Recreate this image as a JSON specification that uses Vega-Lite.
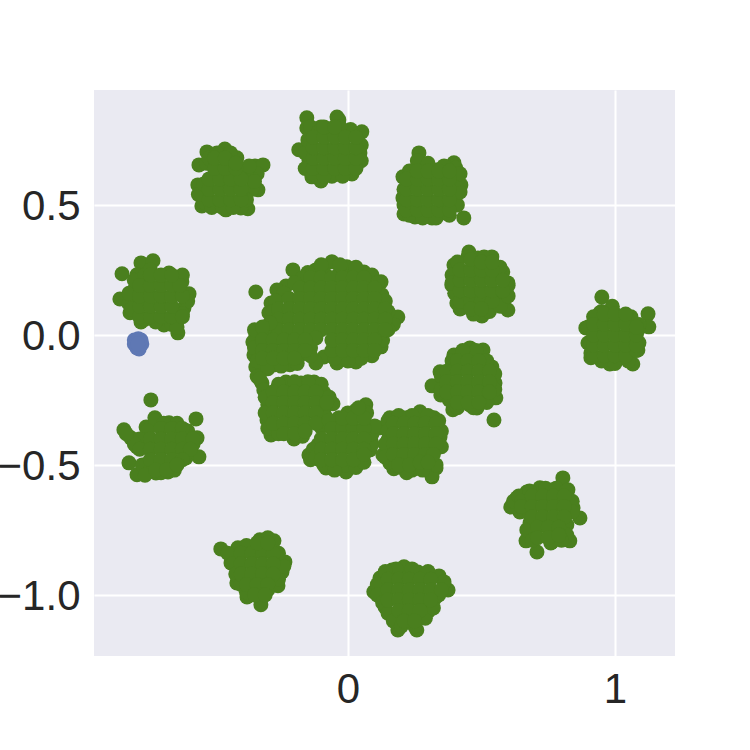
{"$schema":"https://vega.github.io/schema/vega-lite/v6.json","autosize":"none","width":581,"height":566,"padding":{"left":94,"top":90,"right":75,"bottom":94},"background":"white","config":{"view":{"stroke":null,"fill":"#EAEAF2"}},"data":{"values":[
{"x":-0.558,"y":0.654},{"x":-0.528,"y":0.704},{"x":-0.461,"y":0.715},{"x":-0.416,"y":0.681},{"x":-0.562,"y":0.577},{"x":-0.547,"y":0.496},{"x":-0.457,"y":0.481},{"x":-0.375,"y":0.485},{"x":-0.337,"y":0.558},{"x":-0.348,"y":0.65},{"x":-0.318,"y":0.654},{"x":-0.401,"y":0.488},{"x":-0.521,"y":0.5},{"x":-0.55,"y":0.54},{"x":-0.53,"y":0.66},{"x":-0.34,"y":0.62},{"x":-0.36,"y":0.6},{"x":-0.36,"y":0.56},
{"x":-0.52,"y":0.68},{"x":-0.49,"y":0.7},{"x":-0.44,"y":0.7},{"x":-0.38,"y":0.63},{"x":-0.54,"y":0.51},{"x":-0.56,"y":0.54},{"x":-0.54,"y":0.58},{"x":-0.51,"y":0.49},{"x":-0.47,"y":0.49},{"x":-0.43,"y":0.49},{"x":-0.38,"y":0.52},{"x":-0.35,"y":0.59},{"x":-0.37,"y":0.65},
{"x":-0.52,"y":0.52},{"x":-0.48,"y":0.52},{"x":-0.44,"y":0.52},{"x":-0.4,"y":0.52},{"x":-0.52,"y":0.56},{"x":-0.48,"y":0.56},{"x":-0.44,"y":0.56},{"x":-0.4,"y":0.56},{"x":-0.52,"y":0.6},{"x":-0.48,"y":0.6},{"x":-0.44,"y":0.6},{"x":-0.4,"y":0.6},{"x":-0.5,"y":0.64},{"x":-0.46,"y":0.64},{"x":-0.42,"y":0.64},{"x":-0.5,"y":0.68},{"x":-0.46,"y":0.68},{"x":-0.42,"y":0.66},
{"x":-0.154,"y":0.835},{"x":-0.041,"y":0.838},{"x":0.052,"y":0.781},{"x":-0.184,"y":0.712},{"x":0.045,"y":0.7},{"x":0.015,"y":0.619},{"x":-0.101,"y":0.592},{"x":-0.135,"y":0.608},{"x":-0.154,"y":0.796},{"x":-0.034,"y":0.827},{"x":-0.146,"y":0.673},{"x":0.022,"y":0.769},{"x":-0.101,"y":0.8},{"x":-0.045,"y":0.623},{"x":-0.064,"y":0.777},{"x":-0.06,"y":0.61},
{"x":-0.14,"y":0.8},{"x":-0.11,"y":0.78},{"x":-0.16,"y":0.7},{"x":-0.16,"y":0.64},{"x":-0.13,"y":0.62},{"x":-0.09,"y":0.61},{"x":-0.02,"y":0.61},{"x":0.02,"y":0.65},{"x":0.05,"y":0.67},{"x":0.05,"y":0.73},{"x":0.01,"y":0.79},{"x":-0.03,"y":0.8},{"x":-0.15,"y":0.75},
{"x":-0.13,"y":0.64},{"x":-0.09,"y":0.64},{"x":-0.05,"y":0.64},{"x":-0.01,"y":0.64},{"x":0.03,"y":0.64},{"x":-0.13,"y":0.68},{"x":-0.09,"y":0.68},{"x":-0.05,"y":0.68},{"x":-0.01,"y":0.68},{"x":0.03,"y":0.68},{"x":-0.13,"y":0.72},{"x":-0.09,"y":0.72},{"x":-0.05,"y":0.72},{"x":-0.01,"y":0.72},{"x":0.03,"y":0.72},{"x":-0.13,"y":0.76},{"x":-0.09,"y":0.76},{"x":-0.05,"y":0.76},{"x":-0.01,"y":0.76},{"x":0.03,"y":0.76},{"x":-0.09,"y":0.8},{"x":-0.05,"y":0.8},
{"x":-0.846,"y":0.235},{"x":-0.775,"y":0.277},{"x":-0.73,"y":0.285},{"x":-0.79,"y":0.231},{"x":-0.854,"y":0.138},{"x":-0.595,"y":0.158},{"x":-0.614,"y":0.104},{"x":-0.637,"y":0.008},{"x":-0.816,"y":0.085},{"x":-0.775,"y":0.05},{"x":-0.689,"y":0.038},{"x":-0.622,"y":0.204},{"x":-0.67,"y":0.238},{"x":-0.801,"y":0.173},{"x":-0.809,"y":0.135},{"x":-0.64,"y":0.06},
{"x":-0.82,"y":0.12},{"x":-0.82,"y":0.16},{"x":-0.8,"y":0.21},{"x":-0.76,"y":0.23},{"x":-0.62,"y":0.23},{"x":-0.6,"y":0.13},{"x":-0.62,"y":0.08},{"x":-0.66,"y":0.04},{"x":-0.72,"y":0.05},{"x":-0.76,"y":0.06},{"x":-0.81,"y":0.1},{"x":-0.74,"y":0.25},{"x":-0.64,"y":0.03},
{"x":-0.78,"y":0.07},{"x":-0.74,"y":0.07},{"x":-0.7,"y":0.07},{"x":-0.66,"y":0.07},{"x":-0.62,"y":0.07},{"x":-0.78,"y":0.11},{"x":-0.74,"y":0.11},{"x":-0.7,"y":0.11},{"x":-0.66,"y":0.11},{"x":-0.78,"y":0.15},{"x":-0.74,"y":0.15},{"x":-0.7,"y":0.15},{"x":-0.66,"y":0.15},{"x":-0.62,"y":0.15},{"x":-0.78,"y":0.19},{"x":-0.74,"y":0.19},{"x":-0.7,"y":0.19},{"x":-0.66,"y":0.19},{"x":-0.63,"y":0.19},{"x":-0.74,"y":0.23},{"x":-0.7,"y":0.23},{"x":-0.66,"y":0.23},
{"x":-0.06,"y":0.281},{"x":-0.12,"y":0.25},{"x":-0.206,"y":0.25},{"x":-0.232,"y":0.188},{"x":-0.266,"y":0.173},{"x":-0.288,"y":0.123},{"x":-0.296,"y":0.085},{"x":-0.004,"y":0.262},{"x":0.06,"y":0.242},{"x":0.124,"y":0.204},{"x":0.127,"y":0.154},{"x":0.154,"y":0.058},{"x":0.187,"y":0.069},{"x":0.124,"y":-0.046},{"x":0.03,"y":-0.104},{"x":-0.041,"y":-0.108},{"x":-0.09,"y":-0.085},{"x":-0.12,"y":-0.108},{"x":-0.345,"y":0.165},{"x":-0.15,"y":0.24},{"x":-0.09,"y":0.24},{"x":-0.03,"y":0.24},{"x":0.03,"y":0.24},{"x":0.09,"y":0.21},
{"x":-0.17,"y":0.22},{"x":-0.2,"y":0.2},{"x":-0.24,"y":0.16},{"x":-0.27,"y":0.13},{"x":-0.28,"y":0.09},{"x":-0.27,"y":0.05},{"x":-0.1,"y":0.27},{"x":-0.03,"y":0.27},{"x":0.03,"y":0.26},{"x":0.09,"y":0.23},{"x":0.11,"y":0.2},{"x":0.14,"y":0.13},{"x":0.15,"y":0.09},{"x":0.17,"y":0.04},{"x":0.13,"y":-0.02},{"x":0.09,"y":-0.08},{"x":0.05,"y":-0.09},{"x":0,"y":-0.1},{"x":-0.05,"y":-0.09},{"x":0.15,"y":0.02},{"x":-0.06,"y":-0.06},
{"x":-0.14,"y":0.22},{"x":-0.1,"y":0.22},{"x":-0.06,"y":0.22},{"x":-0.02,"y":0.22},{"x":0.02,"y":0.22},{"x":0.06,"y":0.22},
{"x":-0.18,"y":0.18},{"x":-0.14,"y":0.18},{"x":-0.1,"y":0.18},{"x":-0.06,"y":0.18},{"x":-0.02,"y":0.18},{"x":0.02,"y":0.18},{"x":0.06,"y":0.18},{"x":0.1,"y":0.18},
{"x":-0.22,"y":0.14},{"x":-0.18,"y":0.14},{"x":-0.14,"y":0.14},{"x":-0.1,"y":0.14},{"x":-0.06,"y":0.14},{"x":-0.02,"y":0.14},{"x":0.02,"y":0.14},{"x":0.06,"y":0.14},{"x":0.1,"y":0.14},
{"x":-0.26,"y":0.1},{"x":-0.22,"y":0.1},{"x":-0.18,"y":0.1},{"x":-0.14,"y":0.1},{"x":-0.1,"y":0.1},{"x":-0.06,"y":0.1},{"x":-0.02,"y":0.1},{"x":0.02,"y":0.1},{"x":0.06,"y":0.1},{"x":0.1,"y":0.1},{"x":0.14,"y":0.1},
{"x":-0.26,"y":0.06},{"x":-0.22,"y":0.06},{"x":-0.18,"y":0.06},{"x":-0.14,"y":0.06},{"x":-0.1,"y":0.06},{"x":-0.06,"y":0.06},{"x":-0.02,"y":0.06},{"x":0.02,"y":0.06},{"x":0.06,"y":0.06},{"x":0.1,"y":0.06},{"x":0.14,"y":0.06},
{"x":-0.3,"y":0.02},{"x":-0.26,"y":0.02},{"x":-0.22,"y":0.02},{"x":-0.18,"y":0.02},{"x":-0.14,"y":0.02},{"x":-0.1,"y":0.02},{"x":-0.06,"y":0.02},{"x":-0.02,"y":0.02},{"x":0.02,"y":0.02},{"x":0.06,"y":0.02},{"x":0.1,"y":0.02},{"x":0.14,"y":0.02},
{"x":-0.06,"y":-0.02},{"x":-0.02,"y":-0.02},{"x":0.02,"y":-0.02},{"x":0.06,"y":-0.02},{"x":0.1,"y":-0.02},{"x":-0.02,"y":-0.06},{"x":0.02,"y":-0.06},{"x":0.06,"y":-0.06},{"x":0.1,"y":-0.06},
{"x":-0.345,"y":0},{"x":-0.356,"y":-0.027},{"x":-0.292,"y":0.046},{"x":-0.345,"y":-0.123},{"x":-0.322,"y":-0.185},{"x":-0.352,"y":-0.077},{"x":-0.12,"y":-0.012},{"x":-0.273,"y":-0.115},{"x":-0.18,"y":-0.077},{"x":-0.217,"y":-0.115},{"x":-0.322,"y":-0.115},{"x":-0.14,"y":-0.05},{"x":-0.34,"y":-0.16},
{"x":-0.35,"y":0.02},{"x":-0.32,"y":0.03},{"x":-0.35,"y":-0.05},{"x":-0.34,"y":-0.1},{"x":-0.3,"y":-0.13},{"x":-0.25,"y":-0.12},{"x":-0.19,"y":-0.11},{"x":-0.14,"y":-0.08},{"x":-0.33,"y":-0.17},
{"x":-0.32,"y":-0.02},{"x":-0.28,"y":-0.02},{"x":-0.24,"y":-0.02},{"x":-0.2,"y":-0.02},{"x":-0.16,"y":-0.02},{"x":-0.32,"y":-0.06},{"x":-0.28,"y":-0.06},{"x":-0.24,"y":-0.06},{"x":-0.2,"y":-0.06},{"x":-0.16,"y":-0.06},{"x":-0.32,"y":-0.09},{"x":-0.28,"y":-0.09},{"x":-0.24,"y":-0.09},{"x":-0.2,"y":-0.09},
{"x":-0.303,"y":-0.327},{"x":-0.288,"y":-0.385},{"x":-0.202,"y":-0.4},{"x":-0.101,"y":-0.354},{"x":-0.127,"y":-0.181},{"x":-0.176,"y":-0.185},{"x":-0.232,"y":-0.181},{"x":-0.09,"y":-0.223},{"x":-0.056,"y":-0.265},{"x":-0.315,"y":-0.212},{"x":-0.3,"y":-0.269},{"x":-0.09,"y":-0.3},
{"x":-0.31,"y":-0.24},{"x":-0.31,"y":-0.3},{"x":-0.3,"y":-0.36},{"x":-0.26,"y":-0.38},{"x":-0.17,"y":-0.39},{"x":-0.1,"y":-0.33},{"x":-0.08,"y":-0.32},{"x":-0.1,"y":-0.19},{"x":-0.15,"y":-0.18},{"x":-0.2,"y":-0.18},{"x":-0.26,"y":-0.19},{"x":-0.07,"y":-0.24},
{"x":-0.28,"y":-0.22},{"x":-0.24,"y":-0.22},{"x":-0.2,"y":-0.22},{"x":-0.16,"y":-0.22},{"x":-0.12,"y":-0.22},{"x":-0.28,"y":-0.26},{"x":-0.24,"y":-0.26},{"x":-0.2,"y":-0.26},{"x":-0.16,"y":-0.26},{"x":-0.12,"y":-0.26},{"x":-0.08,"y":-0.26},{"x":-0.28,"y":-0.3},{"x":-0.24,"y":-0.3},{"x":-0.2,"y":-0.3},{"x":-0.16,"y":-0.3},{"x":-0.12,"y":-0.3},{"x":-0.28,"y":-0.34},{"x":-0.24,"y":-0.34},{"x":-0.2,"y":-0.34},{"x":-0.16,"y":-0.34},{"x":-0.12,"y":-0.34},{"x":-0.24,"y":-0.38},{"x":-0.2,"y":-0.38},{"x":-0.16,"y":-0.37},
{"x":-0.146,"y":-0.462},{"x":-0.082,"y":-0.512},{"x":-0.007,"y":-0.527},{"x":0.052,"y":-0.488},{"x":0.086,"y":-0.404},{"x":0.067,"y":-0.269},{"x":0.015,"y":-0.319},{"x":-0.034,"y":-0.319},{"x":0.116,"y":-0.358},{"x":-0.112,"y":-0.423},{"x":0.082,"y":-0.442},{"x":-0.105,"y":-0.481},{"x":-0.049,"y":-0.5},{"x":-0.13,"y":-0.44},{"x":-0.01,"y":-0.5},
{"x":-0.14,"y":-0.48},{"x":-0.09,"y":-0.5},{"x":-0.05,"y":-0.52},{"x":0.03,"y":-0.51},{"x":0.06,"y":-0.49},{"x":0.09,"y":-0.42},{"x":0.09,"y":-0.38},{"x":0.1,"y":-0.35},{"x":0.07,"y":-0.3},{"x":0.03,"y":-0.29},{"x":-0.07,"y":-0.33},{"x":-0.12,"y":-0.47},{"x":0,"y":-0.3},
{"x":-0.1,"y":-0.4},{"x":-0.06,"y":-0.36},{"x":-0.02,"y":-0.36},{"x":0.02,"y":-0.36},{"x":0.06,"y":-0.36},{"x":-0.06,"y":-0.4},{"x":-0.02,"y":-0.4},{"x":0.02,"y":-0.4},{"x":0.06,"y":-0.4},{"x":-0.1,"y":-0.44},{"x":-0.06,"y":-0.44},{"x":-0.02,"y":-0.44},{"x":0.02,"y":-0.44},{"x":0.06,"y":-0.44},{"x":-0.1,"y":-0.48},{"x":-0.06,"y":-0.48},{"x":-0.02,"y":-0.48},{"x":0.02,"y":-0.48},{"x":0.06,"y":-0.46},{"x":-0.02,"y":-0.32},{"x":0.02,"y":-0.32},{"x":0.06,"y":-0.32},{"x":0.04,"y":-0.28},
{"x":0.157,"y":-0.319},{"x":0.221,"y":-0.319},{"x":0.27,"y":-0.296},{"x":0.322,"y":-0.319},{"x":0.345,"y":-0.392},{"x":0.33,"y":-0.512},{"x":0.315,"y":-0.546},{"x":0.262,"y":-0.512},{"x":0.172,"y":-0.515},{"x":0.131,"y":-0.462},{"x":0.157,"y":-0.492},{"x":0.15,"y":-0.404},{"x":0.24,"y":-0.52},{"x":0.2,"y":-0.51},{"x":0.15,"y":-0.44},
{"x":0.15,"y":-0.33},{"x":0.15,"y":-0.37},{"x":0.14,"y":-0.42},{"x":0.14,"y":-0.47},{"x":0.18,"y":-0.5},{"x":0.22,"y":-0.53},{"x":0.28,"y":-0.52},{"x":0.33,"y":-0.5},{"x":0.35,"y":-0.43},{"x":0.35,"y":-0.37},{"x":0.34,"y":-0.33},{"x":0.3,"y":-0.31},{"x":0.24,"y":-0.31},{"x":0.19,"y":-0.31},
{"x":0.17,"y":-0.34},{"x":0.21,"y":-0.34},{"x":0.25,"y":-0.34},{"x":0.29,"y":-0.34},{"x":0.33,"y":-0.34},{"x":0.17,"y":-0.38},{"x":0.21,"y":-0.38},{"x":0.25,"y":-0.38},{"x":0.29,"y":-0.38},{"x":0.33,"y":-0.38},{"x":0.17,"y":-0.42},{"x":0.21,"y":-0.42},{"x":0.25,"y":-0.42},{"x":0.29,"y":-0.42},{"x":0.33,"y":-0.42},{"x":0.17,"y":-0.46},{"x":0.21,"y":-0.46},{"x":0.25,"y":-0.46},{"x":0.29,"y":-0.46},{"x":0.32,"y":-0.46},{"x":0.19,"y":-0.5},{"x":0.23,"y":-0.5},{"x":0.27,"y":-0.49},{"x":0.3,"y":-0.49},
{"x":0.315,"y":-0.196},{"x":0.348,"y":-0.231},{"x":0.393,"y":-0.288},{"x":0.483,"y":-0.281},{"x":0.554,"y":-0.242},{"x":0.551,"y":-0.185},{"x":0.539,"y":-0.123},{"x":0.506,"y":-0.058},{"x":0.457,"y":-0.05},{"x":0.397,"y":-0.077},{"x":0.345,"y":-0.142},{"x":0.547,"y":-0.327},{"x":0.457,"y":-0.269},{"x":0.438,"y":-0.258},
{"x":0.35,"y":-0.16},{"x":0.35,"y":-0.21},{"x":0.38,"y":-0.25},{"x":0.41,"y":-0.28},{"x":0.47,"y":-0.28},{"x":0.52,"y":-0.26},{"x":0.55,"y":-0.21},{"x":0.55,"y":-0.15},{"x":0.52,"y":-0.1},{"x":0.48,"y":-0.06},{"x":0.43,"y":-0.06},{"x":0.39,"y":-0.1},
{"x":0.41,"y":-0.1},{"x":0.45,"y":-0.1},{"x":0.49,"y":-0.1},{"x":0.37,"y":-0.14},{"x":0.41,"y":-0.14},{"x":0.45,"y":-0.14},{"x":0.49,"y":-0.14},{"x":0.53,"y":-0.14},{"x":0.37,"y":-0.18},{"x":0.41,"y":-0.18},{"x":0.45,"y":-0.18},{"x":0.49,"y":-0.18},{"x":0.53,"y":-0.18},{"x":0.37,"y":-0.22},{"x":0.41,"y":-0.22},{"x":0.45,"y":-0.22},{"x":0.49,"y":-0.22},{"x":0.53,"y":-0.22},{"x":0.41,"y":-0.26},{"x":0.45,"y":-0.26},{"x":0.49,"y":-0.26},
{"x":0.453,"y":0.319},{"x":0.397,"y":0.269},{"x":0.389,"y":0.192},{"x":0.408,"y":0.123},{"x":0.502,"y":0.073},{"x":0.599,"y":0.096},{"x":0.58,"y":0.135},{"x":0.599,"y":0.2},{"x":0.58,"y":0.242},{"x":0.539,"y":0.3},{"x":0.487,"y":0.296},
{"x":0.39,"y":0.23},{"x":0.4,"y":0.16},{"x":0.42,"y":0.1},{"x":0.47,"y":0.08},{"x":0.53,"y":0.09},{"x":0.57,"y":0.11},{"x":0.6,"y":0.15},{"x":0.6,"y":0.19},{"x":0.57,"y":0.26},{"x":0.51,"y":0.3},{"x":0.45,"y":0.3},{"x":0.41,"y":0.28},{"x":0.39,"y":0.2},
{"x":0.42,"y":0.13},{"x":0.46,"y":0.13},{"x":0.5,"y":0.13},{"x":0.54,"y":0.13},{"x":0.42,"y":0.17},{"x":0.46,"y":0.17},{"x":0.5,"y":0.17},{"x":0.54,"y":0.17},{"x":0.58,"y":0.17},{"x":0.42,"y":0.21},{"x":0.46,"y":0.21},{"x":0.5,"y":0.21},{"x":0.54,"y":0.21},{"x":0.58,"y":0.21},{"x":0.42,"y":0.25},{"x":0.46,"y":0.25},{"x":0.5,"y":0.25},{"x":0.54,"y":0.25},{"x":0.46,"y":0.29},{"x":0.5,"y":0.28},{"x":0.54,"y":0.28},{"x":0.46,"y":0.1},{"x":0.5,"y":0.1},
{"x":0.266,"y":0.7},{"x":0.397,"y":0.662},{"x":0.404,"y":0.642},{"x":0.423,"y":0.577},{"x":0.434,"y":0.45},{"x":0.389,"y":0.512},{"x":0.315,"y":0.45},{"x":0.251,"y":0.454},{"x":0.21,"y":0.465},{"x":0.206,"y":0.527},{"x":0.206,"y":0.608},{"x":0.258,"y":0.642},{"x":0.337,"y":0.635},{"x":0.26,"y":0.67},{"x":0.352,"y":0.469},
{"x":0.21,"y":0.56},{"x":0.21,"y":0.5},{"x":0.23,"y":0.46},{"x":0.28,"y":0.45},{"x":0.33,"y":0.45},{"x":0.38,"y":0.46},{"x":0.41,"y":0.5},{"x":0.42,"y":0.55},{"x":0.41,"y":0.6},{"x":0.42,"y":0.62},{"x":0.23,"y":0.63},{"x":0.3,"y":0.66},{"x":0.36,"y":0.65},
{"x":0.22,"y":0.48},{"x":0.26,"y":0.48},{"x":0.3,"y":0.48},{"x":0.34,"y":0.48},{"x":0.38,"y":0.48},{"x":0.22,"y":0.52},{"x":0.26,"y":0.52},{"x":0.3,"y":0.52},{"x":0.34,"y":0.52},{"x":0.38,"y":0.52},{"x":0.22,"y":0.56},{"x":0.26,"y":0.56},{"x":0.3,"y":0.56},{"x":0.34,"y":0.56},{"x":0.38,"y":0.56},{"x":0.22,"y":0.6},{"x":0.26,"y":0.6},{"x":0.3,"y":0.6},{"x":0.34,"y":0.6},{"x":0.38,"y":0.6},{"x":0.26,"y":0.63},{"x":0.3,"y":0.63},{"x":0.34,"y":0.63},{"x":0.38,"y":0.63},
{"x":0.951,"y":0.146},{"x":0.989,"y":0.1},{"x":0.944,"y":0.085},{"x":1.124,"y":0.081},{"x":1.127,"y":0.031},{"x":0.891,"y":0.027},{"x":0.899,"y":-0.031},{"x":0.91,"y":-0.088},{"x":0.981,"y":-0.112},{"x":1.067,"y":-0.112},{"x":1.086,"y":-0.058},{"x":1.086,"y":0.019},{"x":1.037,"y":0.069},{"x":1.026,"y":-0.085},
{"x":0.9,"y":0.03},{"x":0.91,"y":-0.03},{"x":0.91,"y":-0.07},{"x":0.95,"y":-0.1},{"x":1,"y":-0.11},{"x":1.05,"y":-0.1},{"x":1.09,"y":-0.03},{"x":1.09,"y":0.04},{"x":1.06,"y":0.07},{"x":0.99,"y":0.11},{"x":0.95,"y":0.09},{"x":0.92,"y":0.07},
{"x":0.92,"y":-0.08},{"x":0.96,"y":-0.08},{"x":1,"y":-0.08},{"x":1.04,"y":-0.08},{"x":1.08,"y":-0.06},{"x":0.92,"y":-0.04},{"x":0.96,"y":-0.04},{"x":1,"y":-0.04},{"x":1.04,"y":-0.04},{"x":1.08,"y":-0.04},{"x":0.92,"y":0},{"x":0.96,"y":0},{"x":1,"y":0},{"x":1.04,"y":0},{"x":1.08,"y":0},{"x":0.92,"y":0.04},{"x":0.96,"y":0.04},{"x":1,"y":0.04},{"x":1.04,"y":0.04},{"x":1.08,"y":0.03},{"x":0.96,"y":0.08},{"x":1,"y":0.08},{"x":1.04,"y":0.08},
{"x":-0.738,"y":-0.25},{"x":-0.723,"y":-0.319},{"x":-0.569,"y":-0.323},{"x":-0.565,"y":-0.396},{"x":-0.558,"y":-0.469},{"x":-0.607,"y":-0.473},{"x":-0.674,"y":-0.527},{"x":-0.719,"y":-0.531},{"x":-0.79,"y":-0.538},{"x":-0.82,"y":-0.492},{"x":-0.839,"y":-0.365},{"x":-0.813,"y":-0.396},{"x":-0.79,"y":-0.431},{"x":-0.67,"y":-0.338},{"x":-0.614,"y":-0.365},{"x":-0.756,"y":-0.354},{"x":-0.76,"y":-0.5},
{"x":-0.72,"y":-0.33},{"x":-0.75,"y":-0.37},{"x":-0.78,"y":-0.4},{"x":-0.8,"y":-0.42},{"x":-0.77,"y":-0.5},{"x":-0.74,"y":-0.52},{"x":-0.7,"y":-0.53},{"x":-0.65,"y":-0.52},{"x":-0.61,"y":-0.46},{"x":-0.58,"y":-0.42},{"x":-0.6,"y":-0.37},{"x":-0.64,"y":-0.34},{"x":-0.69,"y":-0.34},{"x":-0.83,"y":-0.38},{"x":-0.76,"y":-0.54},
{"x":-0.7,"y":-0.36},{"x":-0.66,"y":-0.36},{"x":-0.62,"y":-0.36},{"x":-0.74,"y":-0.4},{"x":-0.7,"y":-0.4},{"x":-0.66,"y":-0.4},{"x":-0.62,"y":-0.4},{"x":-0.58,"y":-0.4},{"x":-0.78,"y":-0.44},{"x":-0.74,"y":-0.44},{"x":-0.7,"y":-0.44},{"x":-0.66,"y":-0.44},{"x":-0.62,"y":-0.44},{"x":-0.59,"y":-0.44},{"x":-0.74,"y":-0.48},{"x":-0.7,"y":-0.48},{"x":-0.66,"y":-0.48},{"x":-0.62,"y":-0.48},{"x":-0.72,"y":-0.52},{"x":-0.68,"y":-0.52},{"x":-0.64,"y":-0.5},
{"x":-0.476,"y":-0.823},{"x":-0.412,"y":-0.819},{"x":-0.33,"y":-0.788},{"x":-0.277,"y":-0.792},{"x":-0.236,"y":-0.873},{"x":-0.247,"y":-0.912},{"x":-0.262,"y":-0.965},{"x":-0.326,"y":-1.038},{"x":-0.378,"y":-1.008},{"x":-0.416,"y":-0.954},{"x":-0.438,"y":-0.877},{"x":-0.43,"y":-0.85},
{"x":-0.45,"y":-0.84},{"x":-0.43,"y":-0.88},{"x":-0.42,"y":-0.92},{"x":-0.4,"y":-0.96},{"x":-0.38,"y":-0.99},{"x":-0.3,"y":-0.98},{"x":-0.26,"y":-0.94},{"x":-0.24,"y":-0.89},{"x":-0.26,"y":-0.84},{"x":-0.38,"y":-0.81},{"x":-0.3,"y":-0.78},
{"x":-0.4,"y":-0.84},{"x":-0.36,"y":-0.84},{"x":-0.32,"y":-0.84},{"x":-0.28,"y":-0.84},{"x":-0.4,"y":-0.88},{"x":-0.36,"y":-0.88},{"x":-0.32,"y":-0.88},{"x":-0.28,"y":-0.88},{"x":-0.4,"y":-0.92},{"x":-0.36,"y":-0.92},{"x":-0.32,"y":-0.92},{"x":-0.28,"y":-0.92},{"x":-0.38,"y":-0.96},{"x":-0.34,"y":-0.96},{"x":-0.3,"y":-0.96},{"x":-0.34,"y":-0.8},{"x":-0.3,"y":-0.8},{"x":-0.35,"y":-1},{"x":-0.31,"y":-1},
{"x":0.805,"y":-0.55},{"x":0.824,"y":-0.596},{"x":0.843,"y":-0.665},{"x":0.869,"y":-0.704},{"x":0.831,"y":-0.792},{"x":0.764,"y":-0.796},{"x":0.708,"y":-0.835},{"x":0.667,"y":-0.792},{"x":0.682,"y":-0.723},{"x":0.644,"y":-0.681},{"x":0.61,"y":-0.662},{"x":0.633,"y":-0.627},{"x":0.67,"y":-0.604},{"x":0.719,"y":-0.588},{"x":0.768,"y":-0.596},
{"x":0.62,"y":-0.64},{"x":0.64,"y":-0.62},{"x":0.68,"y":-0.6},{"x":0.74,"y":-0.59},{"x":0.78,"y":-0.59},{"x":0.82,"y":-0.6},{"x":0.84,"y":-0.64},{"x":0.84,"y":-0.68},{"x":0.82,"y":-0.73},{"x":0.68,"y":-0.69},{"x":0.67,"y":-0.75},{"x":0.69,"y":-0.79},{"x":0.76,"y":-0.8},{"x":0.82,"y":-0.77},{"x":0.8,"y":-0.79},
{"x":0.65,"y":-0.64},{"x":0.69,"y":-0.62},{"x":0.73,"y":-0.62},{"x":0.77,"y":-0.62},{"x":0.81,"y":-0.62},{"x":0.65,"y":-0.66},{"x":0.69,"y":-0.66},{"x":0.73,"y":-0.66},{"x":0.77,"y":-0.66},{"x":0.81,"y":-0.66},{"x":0.69,"y":-0.7},{"x":0.73,"y":-0.7},{"x":0.77,"y":-0.7},{"x":0.81,"y":-0.7},{"x":0.71,"y":-0.74},{"x":0.75,"y":-0.74},{"x":0.79,"y":-0.74},{"x":0.71,"y":-0.78},{"x":0.75,"y":-0.78},{"x":0.79,"y":-0.77},
{"x":0.12,"y":-0.935},{"x":0.097,"y":-0.988},{"x":0.165,"y":-0.904},{"x":0.21,"y":-0.892},{"x":0.262,"y":-0.912},{"x":0.341,"y":-0.927},{"x":0.375,"y":-0.981},{"x":0.326,"y":-1.012},{"x":0.3,"y":-1.065},{"x":0.258,"y":-1.135},{"x":0.187,"y":-1.135},{"x":0.169,"y":-1.088},{"x":0.139,"y":-1.046},{"x":0.139,"y":-0.988},{"x":0.29,"y":-0.92},
{"x":0.11,"y":-0.96},{"x":0.11,"y":-1},{"x":0.13,"y":-1.03},{"x":0.15,"y":-1.07},{"x":0.17,"y":-1.1},{"x":0.2,"y":-1.12},{"x":0.25,"y":-1.12},{"x":0.29,"y":-1.09},{"x":0.32,"y":-1.05},{"x":0.34,"y":-1},{"x":0.36,"y":-0.95},{"x":0.3,"y":-0.91},{"x":0.24,"y":-0.9},{"x":0.18,"y":-0.9},{"x":0.14,"y":-0.91},
{"x":0.15,"y":-0.94},{"x":0.19,"y":-0.94},{"x":0.23,"y":-0.94},{"x":0.27,"y":-0.94},{"x":0.31,"y":-0.94},{"x":0.15,"y":-0.98},{"x":0.19,"y":-0.98},{"x":0.23,"y":-0.98},{"x":0.27,"y":-0.98},{"x":0.31,"y":-0.98},{"x":0.35,"y":-0.98},{"x":0.15,"y":-1.02},{"x":0.19,"y":-1.02},{"x":0.23,"y":-1.02},{"x":0.27,"y":-1.02},{"x":0.31,"y":-1.02},{"x":0.19,"y":-1.06},{"x":0.23,"y":-1.06},{"x":0.27,"y":-1.06},{"x":0.21,"y":-1.1},{"x":0.25,"y":-1.1},
{"x":-0.8,"y":-0.02,"g":"b"},{"x":-0.775,"y":-0.02,"g":"b"},{"x":-0.785,"y":-0.015,"g":"b"},{"x":-0.8,"y":-0.035,"g":"b"},{"x":-0.772,"y":-0.035,"g":"b"},{"x":-0.79,"y":-0.05,"g":"b"},{"x":-0.782,"y":-0.054,"g":"b"},{"x":-0.787,"y":-0.035,"g":"b"}
]},
"mark":{"type":"circle","opacity":1,"size":225},
"encoding":{
"x":{"field":"x","type":"quantitative","scale":{"domain":[-0.951,1.225],"nice":false,"zero":false},"axis":{"values":[0,1],"title":null,"format":"d","domain":false,"ticks":false,"grid":true,"gridColor":"white","gridWidth":2,"labelFont":"Liberation Sans","labelFontSize":42,"labelColor":"#262626","labelPadding":13}},
"y":{"field":"y","type":"quantitative","scale":{"domain":[-1.235,0.942],"nice":false,"zero":false},"axis":{"values":[-1,-0.5,0,0.5],"title":null,"format":".1f","domain":false,"ticks":false,"grid":true,"gridColor":"white","gridWidth":2,"labelFont":"Liberation Sans","labelFontSize":42,"labelColor":"#262626","labelPadding":14,"labelOffset":2}},
"color":{"condition":{"test":"datum.g === 'b'","value":"#5F78B4"},"value":"#4A7F1E"}
}}
